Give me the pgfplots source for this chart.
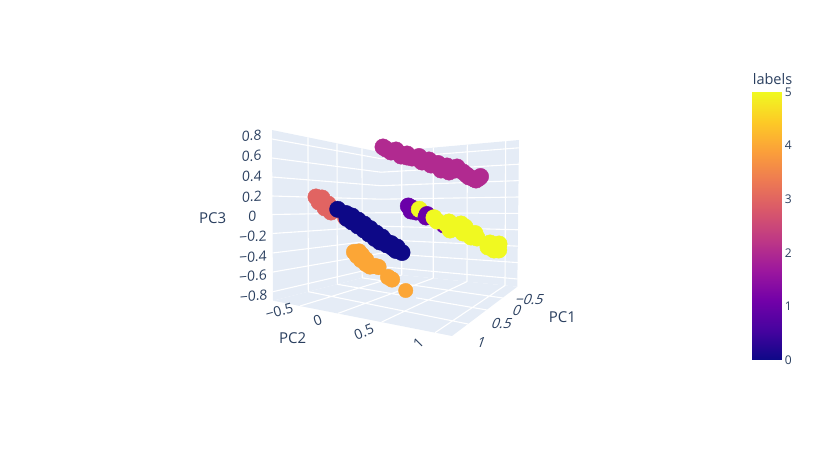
\documentclass[border=0pt]{standalone}
\usepackage{pgfplots}
\usepackage{fontspec}
\setmainfont{Open Sans}
\pgfplotsset{compat=1.18}
\definecolor{wall}{HTML}{E5ECF6}
\definecolor{ink}{HTML}{2A3F5F}
\definecolor{lab0}{HTML}{0D0887}
\definecolor{lab1}{HTML}{6A00A8}
\definecolor{lab2}{HTML}{B12A90}
\definecolor{lab3}{HTML}{E16462}
\definecolor{lab4}{HTML}{FCA636}
\definecolor{lab5}{HTML}{F0F921}
\pgfplotsset{
  colormap={plasma}{rgb255=(13,8,135) rgb255=(70,3,159) rgb255=(114,1,168) rgb255=(156,23,158) rgb255=(189,55,134) rgb255=(216,87,107) rgb255=(237,121,83) rgb255=(251,159,58) rgb255=(253,202,38) rgb255=(240,249,33)},
  blob/.style={only marks, mark=*, mark size=#1, mark options={draw=none}},
  gridl/.style={white, line width=1.1pt, unbounded coords=jump, forget plot},
}
\begin{document}
\begin{tikzpicture}
\path[use as bounding box] (0,0) rectangle (815pt,450pt);
\begin{axis}[
  at={(0,0)}, anchor=south west,
  scale only axis, width=815pt, height=450pt,
  xmin=0, xmax=815, ymin=0, ymax=450, y dir=reverse,
  hide axis, clip=false,
]
% walls
\addplot[fill=wall, draw=none, forget plot] coordinates {(272,130) (381,152.3) (381,273) (273,300.7)} -- cycle;
\addplot[fill=wall, draw=none, forget plot] coordinates {(381,152.3) (519,140) (517.3,286.7) (381,273)} -- cycle;
\addplot[fill=wall, draw=none, forget plot] coordinates {(273,300.7) (381,273) (517.3,286.7) (452,336)} -- cycle;
% z grid, left and right walls
\addplot[gridl] coordinates {
 (272,139) (381,158.7) (519,147.8) (nan,nan)
 (272,158) (381,172.2) (519,164.2) (nan,nan)
 (272,177) (381,185.7) (519,180.6) (nan,nan)
 (272,196) (381,199.2) (519,197) (nan,nan)
 (272,214.5) (381,212.7) (519,213.4) (nan,nan)
 (272.5,233.5) (381,226.2) (519,229.8) (nan,nan)
 (272.5,253) (381,239.7) (518.5,246.2) (nan,nan)
 (273,272) (381,253.2) (518,262.6) (nan,nan)
 (273,291.7) (381,266.7) (517.5,279) };
% vertical grid
\addplot[gridl] coordinates {
 (308,137.3) (308.3,291.7) (nan,nan)
 (337,143.3) (337.3,284.3) (nan,nan)
 (362,148.4) (362.2,277.9) (nan,nan)
 (401.7,150.5) (401.7,275) (nan,nan)
 (433.3,147.7) (433.2,278.2) (nan,nan)
 (467.3,144.6) (467,281.6) (nan,nan)
 (505.7,141.2) (505,285.5) };
% floor grid
\addplot[gridl] coordinates {
 (300,306) (401.7,275) (nan,nan)
 (338.3,313.3) (433.2,278.2) (nan,nan)
 (381.7,322) (467,281.6) (nan,nan)
 (435,332.7) (505,285.5) (nan,nan)
 (308.3,291.7) (468,324) (nan,nan)
 (337.3,284.3) (487,310) (nan,nan)
 (362.2,277.9) (503,298) };
% series
\addplot[blob=8.2, color=lab2, forget plot] coordinates {
 (383,147) (386,149) (391,152) (396,150) (399.3,153.3) (401,156) (407,154) (407,157) (412,158) (419,156.5)
 (420,160) (422,162) (429,160) (431,165) (438,163.5) (441,170) (447,166) (449,172) (457,167)
 (455,170) (463,172) (466.7,175) (469,177) (474,179) (476,180) (479,178) (480.5,176.5) };
\addplot[blob=8.2, color=lab3, forget plot] coordinates {
 (316,197) (322,198) (319,202) (328,204) (325,208) (333,209) (331,212) (345.5,217.5) };
\addplot[blob=8.2, color=lab0, forget plot] coordinates {
 (337.7,209.3) (346,213.5) (347,218.5) (352,216) (352,222) (358,220) (358,226) (364,224) (364,230)
 (370,228.5) (369,234) (376,233) (375,238.5) (382,237) (380,242) (386,241.5) (387,245) (391,243.5)
 (393,248) (397,247) (396,250.5) (402,252.5) };
\addplot[blob=7.8, color=lab4, forget plot] coordinates {
 (354,252) (359,251.5) (357,256) (362,255) (361,260) (366,259.5) (366,264) (370,266.5) (375,266)
 (378.5,267) (388,277) (392,279.5) };
\addplot[blob=7.2, color=lab4, forget plot] coordinates {(405.7,290.5)};
\addplot[fill=wall, draw=none, forget plot] coordinates {(397,295.5) (416,295.5) (416,299) (397,299)} -- cycle;
\addplot[blob=8.2, color=lab1, forget plot] coordinates {(408.3,206) (412,208) (411,211) (416,212)};
\addplot[blob=8.2, color=lab5, forget plot] coordinates {(419.3,209.3)};
\addplot[blob=8.2, color=lab1, forget plot] coordinates {(427,214.5) (426,217) (444,225)};
\addplot[blob=8.2, color=lab5, forget plot] coordinates {
 (434,217.7) (437,221) (446,224) (449,222) (453,226) (450,230) (461,224) (459,229) (465,227) (463,233)
 (469,233) (475,233.5) (471,237) (477,238) (490,243) (488,247) (494,250) (499,244) (498.7,250) (497,247) };
% tick labels
\tikzset{tl/.style={text=ink, inner sep=0pt, font=\fontsize{14}{14}\selectfont},
         al/.style={text=ink, inner sep=0pt, font=\fontsize{15}{15}\selectfont}}
\node[tl, rotate=3, xslant=0.1] at (axis cs:251.7,135.7) {0.8};
\node[tl, rotate=3, xslant=0.1] at (axis cs:251.7,156) {0.6};
\node[tl, rotate=3, xslant=0.1] at (axis cs:252,176.3) {0.4};
\node[tl, rotate=3, xslant=0.1] at (axis cs:252,196.7) {0.2};
\node[tl, rotate=3, xslant=0.1] at (axis cs:252.3,216.7) {0};
\node[tl, rotate=4, xslant=0.1] at (axis cs:253,236.5) {−0.2};
\node[tl, rotate=4, xslant=0.1] at (axis cs:253,257) {−0.4};
\node[tl, rotate=5, xslant=0.1] at (axis cs:253,276) {−0.6};
\node[tl, rotate=5, xslant=0.1] at (axis cs:253.7,296) {−0.8};
\node[al] at (axis cs:212.7,218.3) {PC3};
\node[tl, rotate=15] at (axis cs:279.3,311) {−0.5};
\node[tl, rotate=20] at (axis cs:317.7,320.7) {0};
\node[tl, rotate=22] at (axis cs:364,332) {0.5};
\node[tl, rotate=45] at (axis cs:418.3,343.3) {1};
\node[al] at (axis cs:292.7,338.3) {PC2};
\node[tl, xslant=0.35] at (axis cs:530,299.3) {−0.5};
\node[tl, xslant=0.35] at (axis cs:517.3,310.5) {0};
\node[tl, xslant=0.35] at (axis cs:502.3,323.3) {0.5};
\node[tl, xslant=0.35] at (axis cs:481.7,342.7) {1};
\node[al] at (axis cs:562.3,317.3) {PC1};
\node[text=ink, inner sep=0pt, font=\fontsize{14.5}{14.5}\selectfont] at (axis cs:772.5,79) {labels};
\end{axis}
\begin{axis}[
  at={(752pt,90pt)}, anchor=south west,
  scale only axis, width=30.3pt, height=268pt,
  xmin=0, xmax=1, ymin=0, ymax=5,
  colormap name=plasma,
  point meta min=0, point meta max=5,
  axis line style={draw=none},
  xtick=\empty,
  ytick={0,1,2,3,4,5},
  yticklabel pos=right,
  major tick length=0pt,
  yticklabel style={font=\fontsize{12}{12}\selectfont, text=ink, xshift=-1pt,
    /pgf/number format/assume math mode=true},
  view={0}{90},
]
\addplot3[surf, shader=interp, mesh/rows=2, point meta=y] coordinates {(0,0,0) (1,0,0) (0,5,0) (1,5,0)};
\end{axis}
\end{tikzpicture}
\end{document}
